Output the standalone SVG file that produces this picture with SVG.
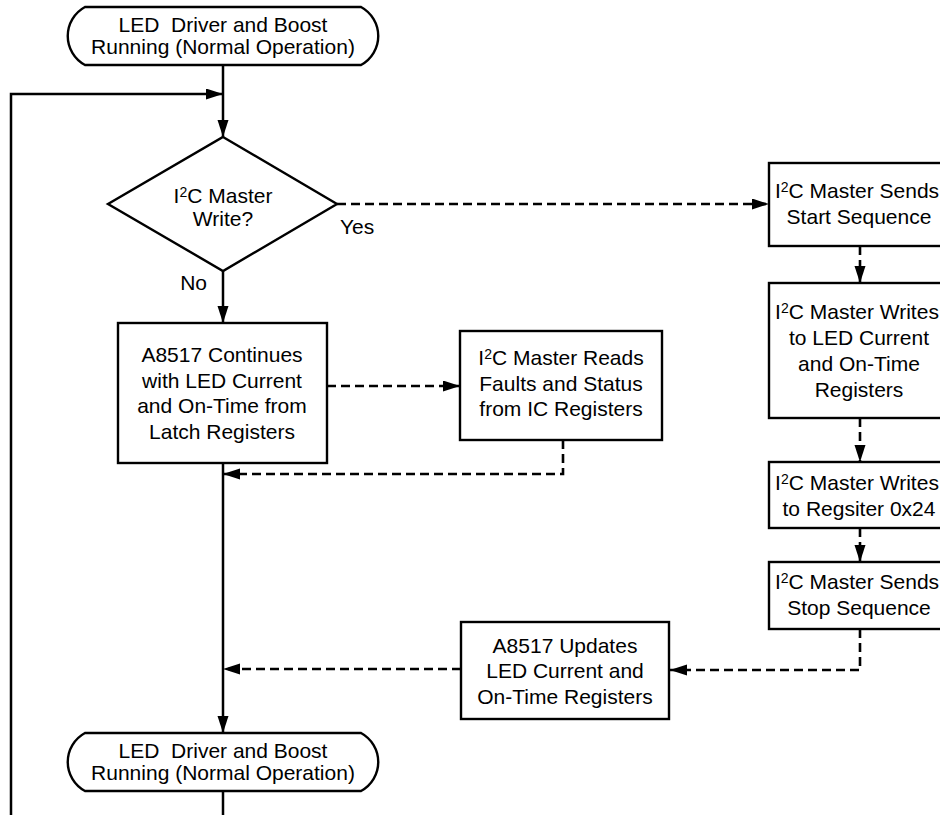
<svg xmlns="http://www.w3.org/2000/svg" width="940" height="815" viewBox="0 0 940 815">
<defs>
<style>
.shape{fill:#fff;stroke:#000;stroke-width:2.4}
.ln{fill:none;stroke:#000;stroke-width:2.5}
.dash{fill:none;stroke:#000;stroke-width:2.6;stroke-dasharray:9 5}
text{font-family:"Liberation Sans",Arial,Helvetica,sans-serif;font-size:21px;fill:#000;text-anchor:middle}
.sup{font-size:14px}
</style>
<marker id="ah" markerUnits="userSpaceOnUse" markerWidth="18" markerHeight="12" refX="17" refY="5.5" orient="auto">
<path d="M0,0 L17,5.5 L0,11 Z" fill="#000" stroke="none"/>
</marker>
</defs>
<rect width="940" height="815" fill="#fff"/>

<g id="connectors">
<path class="ln" d="M223,65 V137" marker-end="url(#ah)"/>
<path class="ln" d="M11,815 V94 H223" marker-end="url(#ah)"/>
<path class="ln" d="M223,271 V323" marker-end="url(#ah)"/>
<path class="ln" d="M223,463 V733" marker-end="url(#ah)"/>
<path class="ln" d="M223,792 V815"/>
<path class="dash" d="M337,204 H769" marker-end="url(#ah)"/>
<path class="dash" d="M860,246 V283" marker-end="url(#ah)"/>
<path class="dash" d="M860,418 V462" marker-end="url(#ah)"/>
<path class="dash" d="M860,528 V562" marker-end="url(#ah)"/>
<path class="dash" d="M860,629 V670 H670" marker-end="url(#ah)"/>
<path class="dash" d="M461,669 H223" marker-end="url(#ah)"/>
<path class="dash" d="M327,386 H460" marker-end="url(#ah)"/>
<path class="dash" d="M563,440 V474 H223" marker-end="url(#ah)"/>
<text x="340" y="234" style="text-anchor:start">Yes</text>
<text x="207" y="290" style="text-anchor:end">No</text>
</g>

<g id="start">
<path class="shape" d="M85,7 H361 A33,33 0 0 1 361,65 H85 A33,33 0 0 1 85,7 Z"/>
<text x="223" y="32" xml:space="preserve">LED  Driver and Boost</text>
<text x="223" y="54">Running (Normal Operation)</text>
</g>

<g id="decision">
<path class="shape" d="M223,137 L337,204 L223,271 L108,204 Z"/>
<text x="223" y="203">I<tspan class="sup" dy="-6">2</tspan><tspan dy="6">C Master</tspan></text>
<text x="223" y="226">Write?</text>
</g>

<g id="continues">
<rect class="shape" x="118" y="323" width="209" height="140"/>
<text x="222" y="362">A8517 Continues</text>
<text x="222" y="388">with LED Current</text>
<text x="222" y="413">and On-Time from</text>
<text x="222" y="439">Latch Registers</text>
</g>

<g id="reads">
<rect class="shape" x="460" y="331" width="202" height="109"/>
<text x="561" y="365">I<tspan class="sup" dy="-6">2</tspan><tspan dy="6">C Master Reads</tspan></text>
<text x="561" y="391">Faults and Status</text>
<text x="561" y="416">from IC Registers</text>
</g>

<g id="sendStart">
<rect class="shape" x="769" y="163" width="182" height="83"/>
<text x="857" y="198">I<tspan class="sup" dy="-6">2</tspan><tspan dy="6">C Master Sends</tspan></text>
<text x="859" y="224">Start Sequence</text>
</g>

<g id="writesLed">
<rect class="shape" x="769" y="283" width="182" height="135"/>
<text x="857" y="319">I<tspan class="sup" dy="-6">2</tspan><tspan dy="6">C Master Writes</tspan></text>
<text x="859" y="345">to LED Current</text>
<text x="859" y="371">and On-Time</text>
<text x="859" y="397">Registers</text>
</g>

<g id="writesReg">
<rect class="shape" x="769" y="462" width="182" height="66"/>
<text x="857" y="490">I<tspan class="sup" dy="-6">2</tspan><tspan dy="6">C Master Writes</tspan></text>
<text x="859" y="516">to Regsiter 0x24</text>
</g>

<g id="sendStop">
<rect class="shape" x="769" y="562" width="182" height="67"/>
<text x="857" y="589">I<tspan class="sup" dy="-6">2</tspan><tspan dy="6">C Master Sends</tspan></text>
<text x="859" y="615">Stop Sequence</text>
</g>

<g id="updates">
<rect class="shape" x="461" y="622" width="208" height="97"/>
<text x="565" y="653">A8517 Updates</text>
<text x="565" y="678">LED Current and</text>
<text x="565" y="704">On-Time Registers</text>
</g>

<g id="end">
<path class="shape" d="M85,733 H361 A33,33 0 0 1 361,791 H85 A33,33 0 0 1 85,733 Z"/>
<text x="223" y="758" xml:space="preserve">LED  Driver and Boost</text>
<text x="223" y="780">Running (Normal Operation)</text>
</g>
</svg>
